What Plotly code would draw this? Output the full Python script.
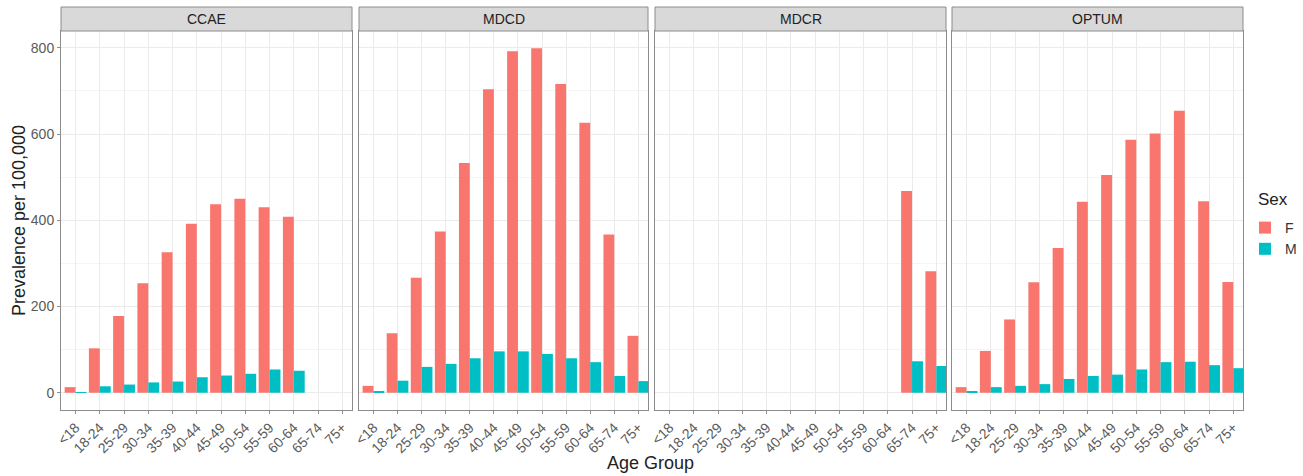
import plotly.graph_objects as go

age_groups = ["<18", "18-24", "25-29", "30-34", "35-39", "40-44", "45-49",
              "50-54", "55-59", "60-64", "65-74", "75+"]
databases = ["CCAE", "MDCD", "MDCR", "OPTUM"]

ccae_f = [13, 103, 178, 254, 326, 392, 437, 450, 430, 408, None, None]
ccae_m = [1, 15, 19, 24, 26, 36, 40, 44, 54, 51, None, None]
mdcd_f = [16, 138, 267, 374, 533, 704, 792, 799, 716, 626, 367, 132]
mdcd_m = [3, 28, 60, 67, 80, 96, 96, 90, 80, 71, 39, 27]
mdcr_f = [None, None, None, None, None, None, None, None, None, None, 468, 282]
mdcr_m = [None, None, None, None, None, None, None, None, None, None, 73, 62]
optum_f = [13, 97, 170, 256, 336, 443, 505, 587, 601, 654, 444, 257]
optum_m = [2, 13, 16, 20, 32, 39, 42, 54, 71, 72, 64, 57]

female = [ccae_f, mdcd_f, mdcr_f, optum_f]
male = [ccae_m, mdcd_m, mdcr_m, optum_m]

F_COLOR = "#F8766D"
M_COLOR = "#00BFC4"
FONT = "Liberation Sans, Arial, sans-serif"
TICK_COLOR = "#5A5A5A"
FRAME = "#8C8C8C"

W, H = 1303, 476
ML, MR, MT, MB = 61, 60, 31, 66
pw = W - ML - MR
ph = H - MT - MB
panels_px = [(61, 352), (359, 648), (655, 946), (952, 1243)]
domains = [[(a - ML) / pw, (b - ML) / pw] for a, b in panels_px]

fig = go.Figure()
for i, db in enumerate(databases):
    xa = "x" if i == 0 else f"x{i+1}"
    ya = "y" if i == 0 else f"y{i+1}"
    fig.add_trace(go.Bar(x=age_groups, y=female[i], name="F", marker_color=F_COLOR,
                         marker_line_width=0, xaxis=xa, yaxis=ya,
                         offsetgroup="F", showlegend=(i == 0), legendgroup="F"))
    fig.add_trace(go.Bar(x=age_groups, y=male[i], name="M", marker_color=M_COLOR,
                         marker_line_width=0, xaxis=xa, yaxis=ya,
                         offsetgroup="M", showlegend=(i == 0), legendgroup="M"))

y_common = dict(
    range=[-40, 839], tick0=0, dtick=200, showgrid=True, gridcolor="#EBEBEB",
    minor=dict(dtick=100, tick0=0, showgrid=True, gridcolor="#F4F4F4"),
    showline=True, mirror=True, linecolor=FRAME, linewidth=1,
    zeroline=False, fixedrange=True, domain=[0, 1],
)

layout = dict(
    width=W, height=H,
    margin=dict(l=ML, r=MR, t=MT, b=MB, autoexpand=False),
    paper_bgcolor="white", plot_bgcolor="white",
    barmode="group", bargap=0.1, bargroupgap=0,
    font=dict(family=FONT, color="#222222"),
    legend=dict(
        x=(1245 - ML) / pw, y=(MT + ph - 212) / ph, xanchor="left", yanchor="top",
        font=dict(size=14, color="#333333"),
        tracegroupgap=0, itemsizing="constant", bgcolor="rgba(0,0,0,0)",
    ),
)

for i in range(4):
    key = "xaxis" if i == 0 else f"xaxis{i+1}"
    layout[key] = dict(
        type="category", categoryorder="array", categoryarray=age_groups,
        range=[-0.6, 11.4], showgrid=True, gridcolor="#EBEBEB", gridwidth=1,
        showline=True, mirror=True, linecolor=FRAME, linewidth=1,
        ticks="outside", ticklen=3, tickcolor=FRAME, tickangle=-45,
        tickfont=dict(family=FONT, size=14, color=TICK_COLOR),
        zeroline=False, anchor="y" if i == 0 else f"y{i+1}", fixedrange=True,
        domain=domains[i],
    )
    ykey = "yaxis" if i == 0 else f"yaxis{i+1}"
    yax = dict(y_common)
    yax["anchor"] = "x" if i == 0 else f"x{i+1}"
    if i == 0:
        yax.update(ticks="outside", ticklen=3, tickcolor=FRAME,
                   tickfont=dict(family=FONT, size=14, color=TICK_COLOR),
                   title=dict(text="Prevalence per 100,000",
                              font=dict(size=18, color="#222222"), standoff=0))
    else:
        yax.update(showticklabels=False, ticks="", matches="y")
    layout[ykey] = yax

fig.update_layout(**layout)

shapes = []
annotations = []
strip_h = 24 / ph
for i, db in enumerate(databases):
    x0, x1 = domains[i]
    shapes.append(dict(type="rect", xref="paper", yref="paper",
                       x0=x0, x1=x1, y0=1.0, y1=1.0 + strip_h,
                       fillcolor="#D9D9D9", line=dict(color=FRAME, width=1)))
    annotations.append(dict(text=db, xref="paper", yref="paper",
                            x=(x0 + x1) / 2, y=1.0 + strip_h / 2,
                            showarrow=False, xanchor="center", yanchor="middle",
                            font=dict(size=14, color="#222222")))

annotations.append(dict(text="Age Group", xref="paper", yref="paper",
                        x=(650 - ML) / pw, y=-(463 - (MT + ph)) / ph,
                        showarrow=False, xanchor="center", yanchor="middle",
                        font=dict(size=18, color="#222222")))
annotations.append(dict(text="Sex", xref="paper", yref="paper",
                        x=(1256 - ML) / pw, y=(MT + ph - 200) / ph,
                        showarrow=False, xanchor="left", yanchor="middle",
                        font=dict(size=17, color="#222222")))

fig.update_layout(shapes=shapes, annotations=annotations)

fig.write_html("out.html", config={"displayModeBar": False},
               post_script="document.body.style.margin='0px';")
